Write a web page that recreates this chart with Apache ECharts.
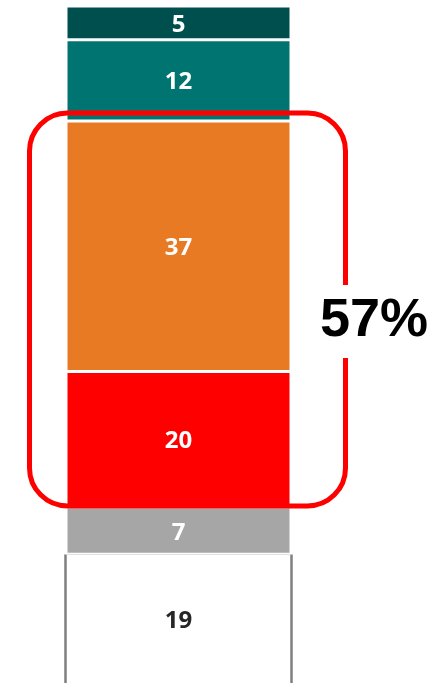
<!DOCTYPE html>
<html>
<head>
<meta charset="utf-8">
<script src="https://cdn.jsdelivr.net/npm/echarts@6/dist/echarts.min.js"></script>
<style>
  html, body { margin: 0; padding: 0; background: #fff; }
  #chart { width: 438px; height: 683px; }
</style>
</head>
<body>
<div id="chart"></div>
<script>
// segments, bottom to top
var categories = ['total'];
var segNames = ['s19', 's7', 's20', 's37', 's12', 's5'];
var segValues = [19, 7, 20, 37, 12, 5];
var segColors = ['#ffffff', '#a6a6a6', '#ff0000', '#e87a24', '#007470', '#004f4f'];
var labelColors = ['#262626', '#ffffff', '#ffffff', '#ffffff', '#ffffff', '#ffffff'];
var highlightText = '57%';

var chart = echarts.init(document.getElementById('chart'));

var series = segValues.map(function (v, i) {
  return {
    name: segNames[i],
    type: 'bar',
    stack: 'all',
    barWidth: 225,
    data: [v],
    itemStyle: {
      color: segColors[i],
      borderColor: '#ffffff',
      borderWidth: i === 0 ? 0 : 1.5
    },
    label: {
      show: true,
      position: 'inside',
      offset: [0, 2],
      color: labelColors[i],
      fontSize: 24,
      fontWeight: 'bold',
      fontFamily: 'Open Sans'
    },
    silent: true
  };
});

// grey side edges of the white bottom segment
series.push({
  type: 'custom',
  data: [[0, segValues[0]]],
  silent: true,
  z: 5,
  renderItem: function (params, api) {
    var t = api.coord([api.value(0), api.value(1)]);
    var b = api.coord([api.value(0), 0]);
    var half = 113;
    return {
      type: 'group',
      children: [
        { type: 'line', shape: { x1: t[0] - half, y1: t[1], x2: t[0] - half, y2: b[1] },
          style: { stroke: '#7f7f7f', lineWidth: 2.5 } },
        { type: 'line', shape: { x1: t[0] + half, y1: t[1], x2: t[0] + half, y2: b[1] },
          style: { stroke: '#7f7f7f', lineWidth: 2.5 } },
        { type: 'line', shape: { x1: t[0] - half, y1: t[1], x2: t[0] + half, y2: t[1] },
          style: { stroke: '#dddddd', lineWidth: 1 } }
      ]
    };
  }
});

chart.setOption({
  animation: false,
  grid: { left: 66, right: 147, top: 6, bottom: -2 },
  xAxis: { type: 'category', data: categories, show: false },
  yAxis: { type: 'value', min: 0, max: 100, show: false },
  series: series
});

// highlight box around the 37 + 20 segments
var lowSum = segValues[0] + segValues[1];
var highSum = lowSum + segValues[2] + segValues[3];
var pTop = chart.convertToPixel({ gridIndex: 0 }, [0, highSum]);
var pBot = chart.convertToPixel({ gridIndex: 0 }, [0, lowSum]);
var boxLeft = pTop[0] - 112 - 37;
var boxRight = pTop[0] + 112 + 55;
var boxTop = pTop[1] - 8;
var boxBottom = pBot[1] - 1;

chart.setOption({
  graphic: [
    {
      type: 'rect',
      shape: { x: boxLeft, y: boxTop, width: boxRight - boxLeft, height: boxBottom - boxTop, r: 38 },
      style: { fill: null, stroke: '#ff0000', lineWidth: 5 },
      z: 10
    },
    {
      type: 'text',
      x: 374,
      y: (boxTop + boxBottom) / 2 + 12,
      style: {
        text: highlightText,
        fill: '#000000',
        font: 'bold 54px "Liberation Sans", Arial, sans-serif',
        align: 'center',
        verticalAlign: 'middle',
        backgroundColor: '#ffffff',
        padding: [15, 4, 4, 4]
      },
      z: 11
    }
  ]
});
</script>
</body>
</html>
